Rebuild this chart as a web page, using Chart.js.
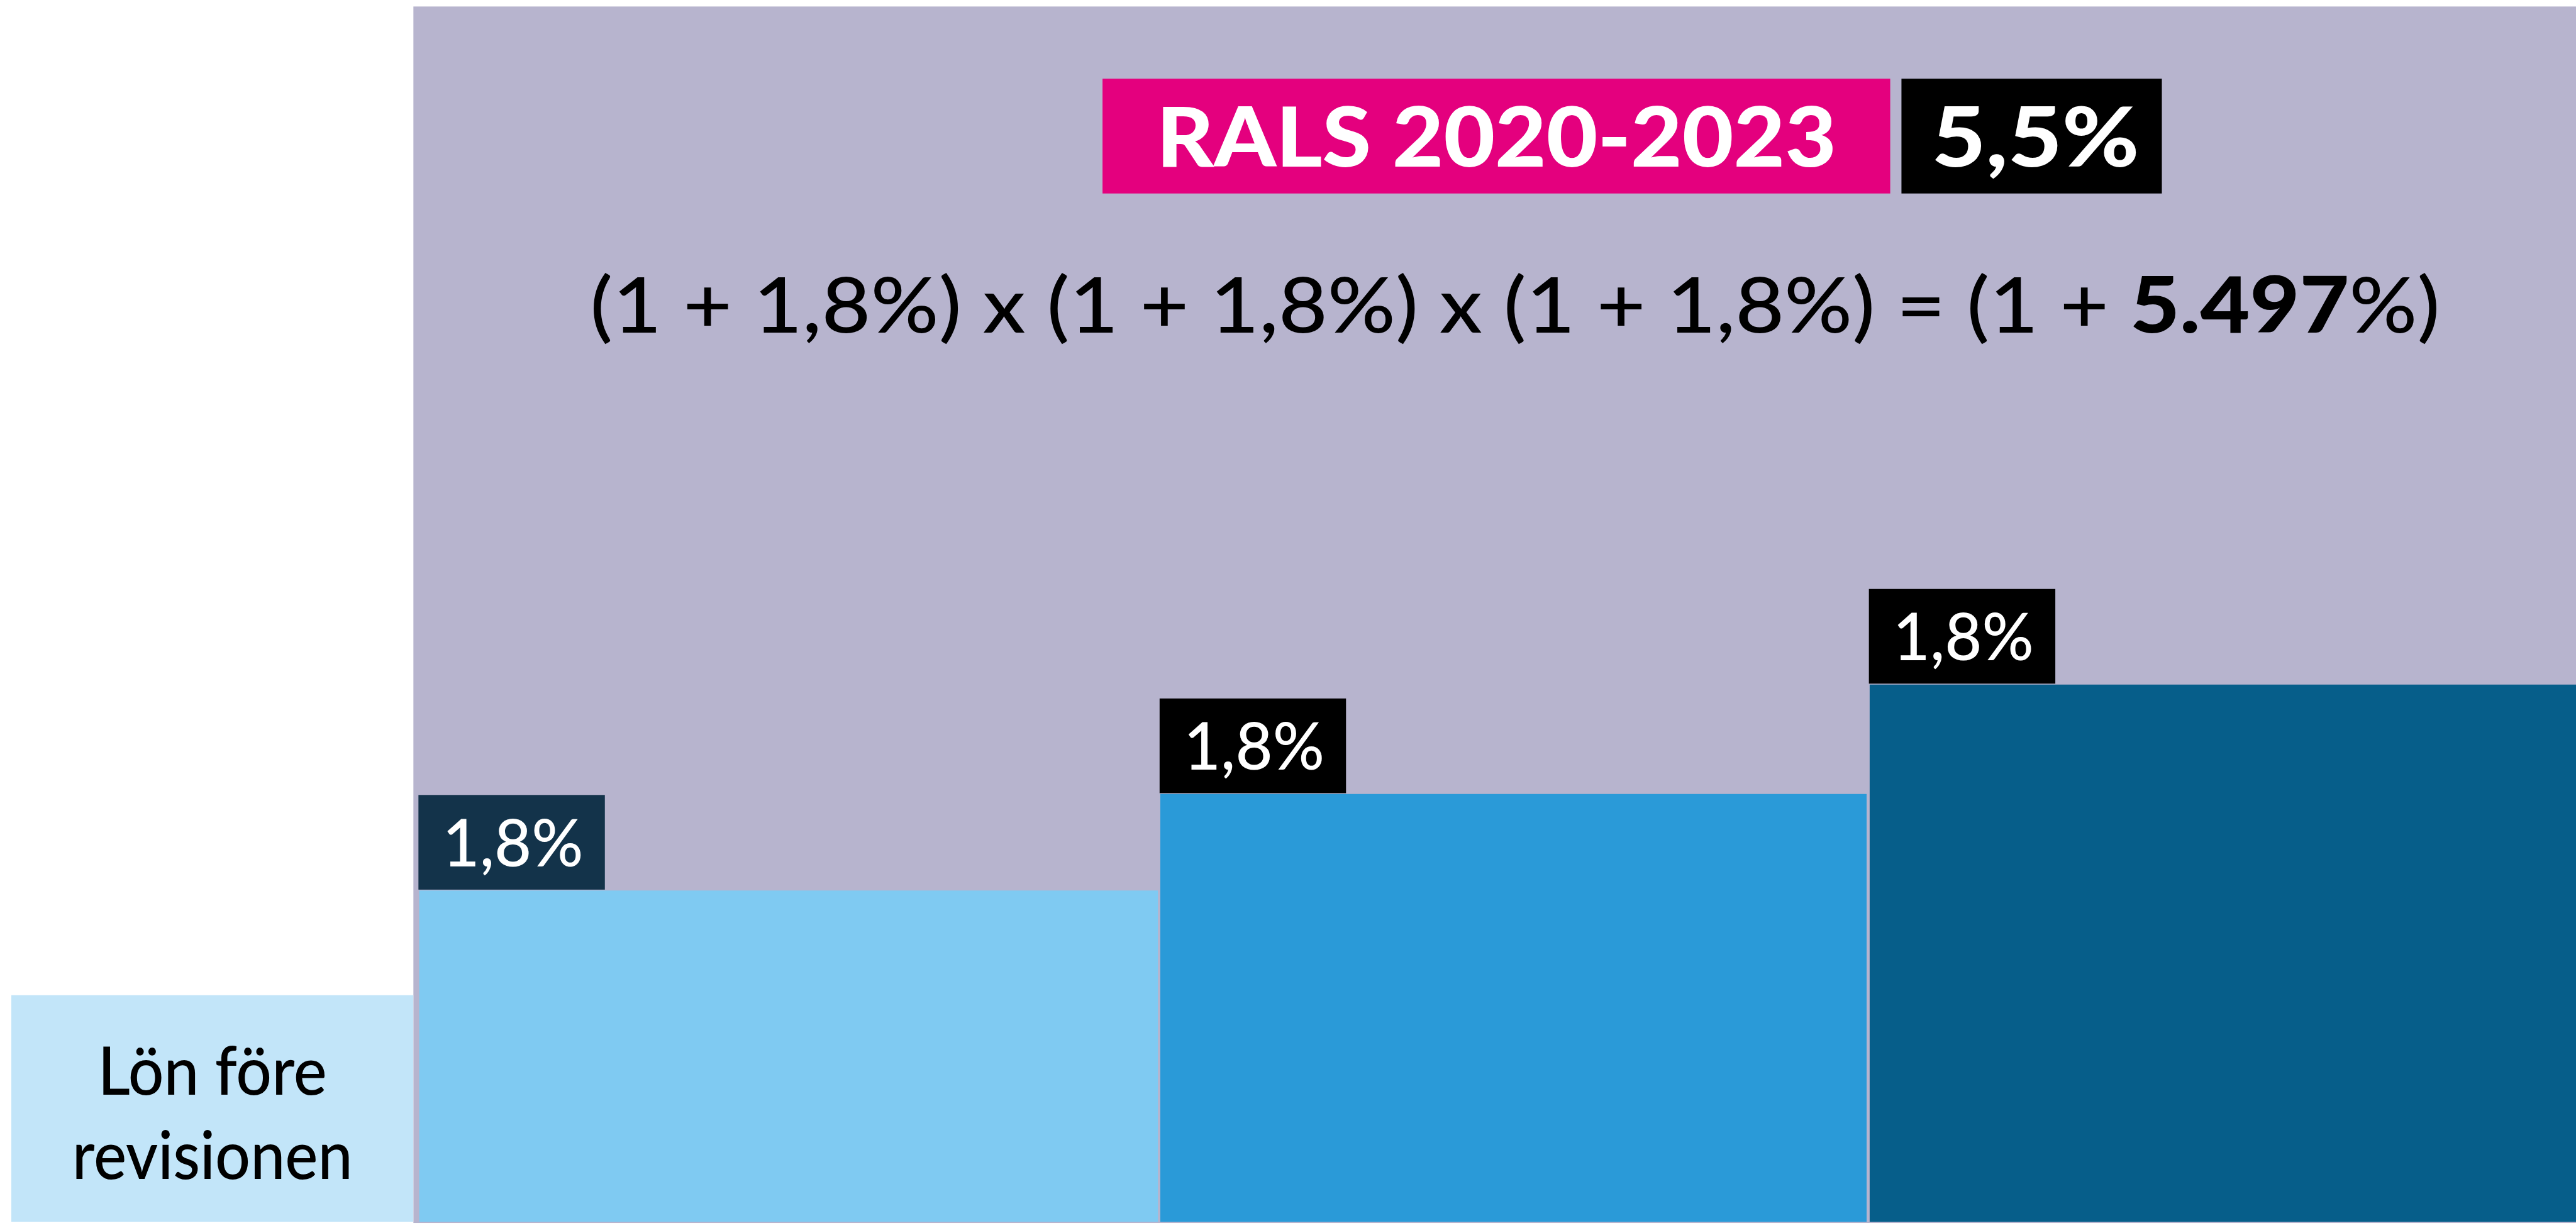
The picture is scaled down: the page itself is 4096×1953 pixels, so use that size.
<!DOCTYPE html>
<html>
<head>
<meta charset="utf-8">
<script src="https://cdn.jsdelivr.net/npm/chart.js@4.4.1/dist/chart.umd.min.js"></script>
<style>
  html, body { margin: 0; padding: 0; background: #fff; }
  canvas { display: block; }
</style>
</head>
<body>
<canvas id="ralsGraf" width="4096" height="1953"></canvas>
<script>
// Data
const kolumner = ['Lön före revisionen', 'År 1', 'År 2', 'År 3'];
const hojd = [18.65, 27.26, 35.20, 44.21];        // staplarnas höjd (index, toppen = 100)
const startX = [0.016, 0.592, 1.639, 2.641];      // vänsterkant per stapel
const slutX = [0.584, 1.636, 2.637, 3.639];       // högerkant per stapel
const okning = ['', '1,8%', '1,8%', '1,8%'];
const rubrik = 'RALS 2020-2023';
const totalt = '5,5%';
const formel = '(1 + 1,8%) x (1 + 1,8%) x (1 + 1,8%) = (1 + ';
const formelResultat = '5.497';

const S = 0.941;
const FONT = 'Lato, "Open Sans", sans-serif';
const TEXTVIKT = '500';
const farger = ['#c2e5f9', '#7fcaf2', '#2a9ad8', '#065e8a'];
const etikettFarger = ['#000000', '#13334a', '#000000', '#000000'];
const lila = '#b7b4ce';
const rosa = '#e4007e';

// storlek så att siffrornas höjd blir capPx
function storlek(ctx, vikt, capPx) {
    ctx.font = vikt + ' 100px ' + FONT;
    const asc = ctx.measureText('1').actualBoundingBoxAscent || 72;
    return capPx * 100 / asc;
}

// skriver text (flera delar) centrerad och anpassad till en bredd
function skriv(ctx, delar, cx, baslinje, capPx, bredd, farg) {
    let total = 0;
    const matt = delar.map(d => {
        const s = storlek(ctx, d.vikt, capPx);
        ctx.font = d.vikt + ' ' + s + 'px ' + FONT;
        const w = ctx.measureText(d.t).width;
        total += w;
        return { font: ctx.font, w: w, t: d.t };
    });
    const sx = bredd / total;
    ctx.save();
    ctx.translate(cx - bredd / 2, baslinje);
    ctx.scale(sx, 1);
    ctx.fillStyle = farg;
    ctx.textAlign = 'left';
    ctx.textBaseline = 'alphabetic';
    let x = 0;
    matt.forEach(m => {
        ctx.font = m.font;
        ctx.fillText(m.t, x, 0);
        x += m.w;
    });
    ctx.restore();
}

const bakgrund = {
    id: 'bakgrund',
    beforeDatasetsDraw(chart) {
        const { ctx, chartArea, scales } = chart;
        const x0 = scales.x.getPixelForValue(slutX[0]);
        ctx.save();
        ctx.fillStyle = lila;
        ctx.fillRect(x0, chartArea.top, chartArea.right - x0, chartArea.bottom - chartArea.top + 2 * S);

        // Rubrikrutor
        ctx.fillStyle = rosa;
        ctx.fillRect(1863 * S, 133 * S, 1331 * S, 194 * S);
        ctx.fillStyle = '#000';
        ctx.fillRect(3213 * S, 133 * S, 440 * S, 194 * S);
        ctx.restore();

        skriv(ctx, [{ t: rubrik, vikt: '900' }], 2528.5 * S, 282 * S, 101 * S, 1149 * S, '#fff');
        skriv(ctx, [{ t: totalt, vikt: '900' }], 3439.5 * S, 282 * S, 101 * S, 351 * S, '#fff');

        skriv(ctx, [
            { t: formel, vikt: TEXTVIKT },
            { t: formelResultat, vikt: '900' },
            { t: '%)', vikt: TEXTVIKT }
        ], 2560 * S, 562 * S, 95 * S, 3126 * S, '#000');
    }
};

const etiketter = {
    id: 'etiketter',
    afterDatasetsDraw(chart) {
        const { ctx } = chart;
        // Lön före revisionen
        const bas = chart.getDatasetMeta(0).data;
        const cx = (bas[0].x + bas[1].x) / 2;
        skriv(ctx, [{ t: 'Lön före', vikt: TEXTVIKT }], cx, bas[0].y + 168 * S, 82 * S, 387 * S, '#000');
        skriv(ctx, [{ t: 'revisionen', vikt: TEXTVIKT }], cx, bas[0].y + 311 * S, 82 * S, 474 * S, '#000');

        const bw = 315 * S, bh = 160 * S;
        for (let i = 1; i < kolumner.length; i++) {
            const p = chart.getDatasetMeta(i).data[0];
            const bx = p.x - 1;
            const by = p.y - 1.5 * S - bh;
            ctx.save();
            ctx.fillStyle = etikettFarger[i];
            ctx.fillRect(bx, by, bw, bh);
            ctx.restore();
            skriv(ctx, [{ t: okning[i], vikt: TEXTVIKT }], bx + bw / 2 + 2 * S, by + (bh + 81 * S) / 2, 81 * S, 238 * S, '#fff');
        }
    }
};

new Chart(document.getElementById('ralsGraf'), {
    type: 'line',
    data: {
        datasets: kolumner.map((namn, i) => ({
            label: namn,
            data: [{ x: startX[i], y: hojd[i] }, { x: slutX[i], y: hojd[i] }],
            backgroundColor: farger[i],
            borderColor: 'transparent',
            borderWidth: 0,
            pointRadius: 0,
            tension: 0,
            fill: 'origin'
        }))
    },
    options: {
        responsive: false,
        devicePixelRatio: 1,
        animation: false,
        layout: { padding: { top: 11 * S, bottom: 1953 - 2065 * S, left: 0, right: 0 } },
        plugins: { legend: { display: false }, tooltip: { enabled: false } },
        scales: {
            x: { type: 'linear', min: 0, max: 3.639, display: false },
            y: { min: 0, max: 100, display: false }
        }
    },
    plugins: [bakgrund, etiketter]
});
</script>
</body>
</html>
